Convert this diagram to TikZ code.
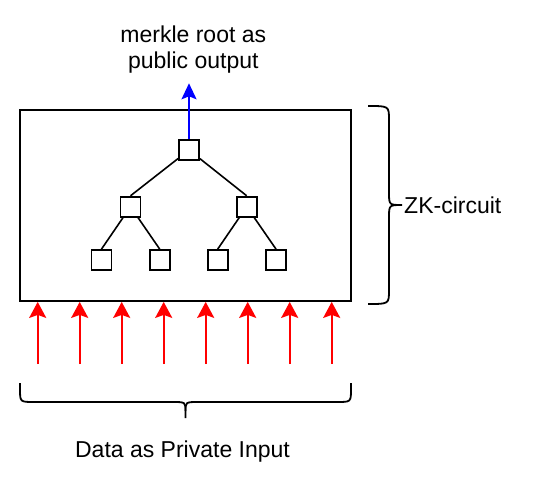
\documentclass[tikz,border=0pt]{standalone}
\usepackage{fontspec}
\setmainfont{Liberation Sans}
\usetikzlibrary{arrows.meta}
\begin{document}
\begin{tikzpicture}[x=1pt,y=-1pt,
  lbl/.style={font=\fontsize{23}{27}\selectfont, inner sep=0pt, anchor=base},
  tnode/.style={draw=black, line width=1.8pt, minimum width=20pt, minimum height=20pt, inner sep=0pt, fill=white},
  tedge/.style={draw=black, line width=1.6pt},
  inarrow/.style={color=red, line width=2pt, -{Stealth[length=16pt,width=17pt,inset=3pt]}},
  outarrow/.style={color=blue, line width=2pt, -{Stealth[length=16pt,width=15pt,inset=3pt]}},
  brace/.style={draw=black, line width=1.8pt}]
\useasboundingbox (0,0) rectangle (533,500);
% circuit box
\node[draw=black, line width=1.8pt, minimum width=331pt, minimum height=191pt, inner sep=0pt] (circuit) at (185.5,205.5) {};
% tree
\node[tnode] (root) at (189,150) {};
\node[tnode] (l) at (130.5,206.7) {};
\node[tnode] (r) at (246.7,206.7) {};
\node[tnode] (ll) at (101.5,260) {};
\node[tnode] (lr) at (159.7,260) {};
\node[tnode] (rl) at (217.7,260) {};
\node[tnode] (rr) at (276,260) {};
\draw[tedge] (root) -- (l.north);
\draw[tedge] (root) -- (r.north);
\draw[tedge] (l) -- (ll.north);
\draw[tedge] (l) -- (lr.north);
\draw[tedge] (r) -- (rl.north);
\draw[tedge] (r) -- (rr.north);
% output
\coordinate (outtip) at (189,83.3);
\draw[outarrow] (root.north) -- (outtip);
\node[lbl] (title1) at (193.3,42.3) {merkle root as};
\node[lbl] (title2) at (193.3,68.3) {public output};
% inputs
\foreach \i in {0,...,7} {
  \coordinate (in\i) at ({37.7+42*\i},364);
  \draw[inarrow] (in\i) -- (in\i |- circuit.south);
}
% right brace
\draw[brace] (368,106) .. controls (389,106) .. (389,120) -- (389,192)
  .. controls (389,205) .. (402,205) .. controls (389,205) .. (389,218)
  -- (389,290) .. controls (389,304) .. (368,304);
\node[lbl, anchor=base west] (zk) at (404,213) {ZK-circuit};
% bottom brace
\draw[brace] (20,383) -- (20,389) .. controls (20,402) .. (34,402) -- (172,402)
  .. controls (185.5,402) .. (185.5,411) -- (185.5,418);
\draw[brace] (351,383) -- (351,389) .. controls (351,402) .. (337,402) -- (199,402)
  .. controls (185.5,402) .. (185.5,411);
\node[lbl] (data) at (182.5,457.3) {Data as Private Input};
\end{tikzpicture}
\end{document}
